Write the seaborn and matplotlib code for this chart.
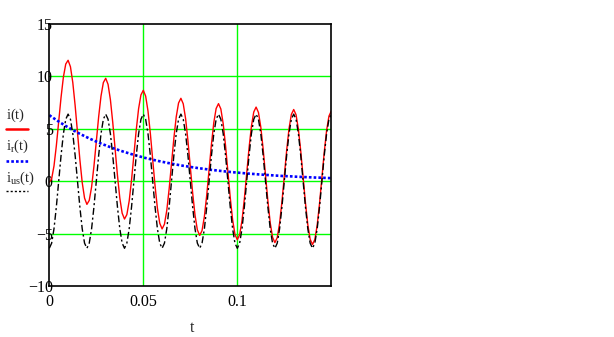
import numpy as np
import pandas as pd
import matplotlib
matplotlib.use("Agg")
import matplotlib.pyplot as plt
from matplotlib.lines import Line2D
import seaborn as sns

# ---- data ----
T_END = 0.15
N_SAMPLES = 121

i_total = [
    -0.10, 0.23, 1.46, 3.39, 5.69, 8.00, 9.94, 11.18, 11.54, 10.92, 9.41, 7.21, 4.64, 2.07, -0.12, -1.61,
    -2.21, -1.83, -0.55, 1.43, 3.78, 6.14, 8.12, 9.41, 9.82, 9.24, 7.78, 5.61, 3.08, 0.56, -1.60, -3.05,
    -3.61, -3.19, -1.88, 0.13, 2.52, 4.90, 6.92, 8.24, 8.67, 8.12, 6.69, 4.55, 2.05, -0.45, -2.58, -4.01,
    -4.55, -4.10, -2.77, -0.73, 1.67, 4.08, 6.12, 7.46, 7.91, 7.38, 5.97, 3.85, 1.36, -1.12, -3.23, -4.65,
    -5.17, -4.71, -3.36, -1.31, 1.11, 3.53, 5.59, 6.94, 7.40, 6.89, 5.48, 3.38, 0.91, -1.57, -3.67, -5.07,
    -5.58, -5.11, -3.75, -1.69, 0.74, 3.17, 5.23, 6.60, 7.07, 6.56, 5.16, 3.07, 0.60, -1.86, -3.96, -5.35,
    -5.86, -5.38, -4.01, -1.95, 0.49, 2.93, 5.00, 6.37, 6.84, 6.34, 4.95, 2.86, 0.40, -2.06, -4.15, -5.54,
    -6.04, -5.56, -4.19, -2.11, 0.33, 2.77, 4.84, 6.21, 6.70,
]

i_r = [
    6.30, 6.14, 5.99, 5.84, 5.69, 5.55, 5.41, 5.27, 5.14, 5.01, 4.88, 4.76, 4.64, 4.52, 4.41, 4.30,
    4.19, 4.08, 3.98, 3.88, 3.78, 3.69, 3.59, 3.50, 3.42, 3.33, 3.25, 3.16, 3.08, 3.01, 2.93, 2.86,
    2.79, 2.72, 2.65, 2.58, 2.52, 2.45, 2.39, 2.33, 2.27, 2.21, 2.16, 2.10, 2.05, 2.00, 1.95, 1.90,
    1.85, 1.81, 1.76, 1.72, 1.67, 1.63, 1.59, 1.55, 1.51, 1.47, 1.44, 1.40, 1.36, 1.33, 1.30, 1.26,
    1.23, 1.20, 1.17, 1.14, 1.11, 1.08, 1.06, 1.03, 1.00, 0.98, 0.95, 0.93, 0.91, 0.88, 0.86, 0.84,
    0.82, 0.80, 0.78, 0.76, 0.74, 0.72, 0.70, 0.69, 0.67, 0.65, 0.63, 0.62, 0.60, 0.59, 0.57, 0.56,
    0.54, 0.53, 0.52, 0.50, 0.49, 0.48, 0.47, 0.46, 0.44, 0.43, 0.42, 0.41, 0.40, 0.39, 0.38, 0.37,
    0.36, 0.35, 0.34, 0.34, 0.33, 0.32, 0.31, 0.30, 0.30,
]

i_us = [
    -6.40, -5.91, -4.53, -2.45, 0.00, 2.45, 4.53, 5.91, 6.40, 5.91, 4.53, 2.45, 0.00, -2.45, -4.53, -5.91,
    -6.40, -5.91, -4.53, -2.45, 0.00, 2.45, 4.53, 5.91, 6.40, 5.91, 4.53, 2.45, 0.00, -2.45, -4.53, -5.91,
    -6.40, -5.91, -4.53, -2.45, 0.00, 2.45, 4.53, 5.91, 6.40, 5.91, 4.53, 2.45, 0.00, -2.45, -4.53, -5.91,
    -6.40, -5.91, -4.53, -2.45, 0.00, 2.45, 4.53, 5.91, 6.40, 5.91, 4.53, 2.45, 0.00, -2.45, -4.53, -5.91,
    -6.40, -5.91, -4.53, -2.45, 0.00, 2.45, 4.53, 5.91, 6.40, 5.91, 4.53, 2.45, 0.00, -2.45, -4.53, -5.91,
    -6.40, -5.91, -4.53, -2.45, 0.00, 2.45, 4.53, 5.91, 6.40, 5.91, 4.53, 2.45, 0.00, -2.45, -4.53, -5.91,
    -6.40, -5.91, -4.53, -2.45, 0.00, 2.45, 4.53, 5.91, 6.40, 5.91, 4.53, 2.45, 0.00, -2.45, -4.53, -5.91,
    -6.40, -5.91, -4.53, -2.45, 0.00, 2.45, 4.53, 5.91, 6.40,
]

x_ticks = [0, 0.05, 0.1]
x_tick_labels = ["0", "0.05", "0.1"]
y_ticks = [-10, -5, 0, 5, 10, 15]
y_tick_labels = ["\u221210", "\u22125", "0", "5", "10", "15"]
x_label = "t"
legend_labels = [r"$\mathrm{i(t)}$", r"$\mathrm{i_{r}(t)}$", r"$\mathrm{i_{us}(t)}$"]

# ---- style ----
sns.set_theme(style="white")
plt.rcParams["font.family"] = ["Liberation Serif", "DejaVu Serif"]
plt.rcParams["mathtext.fontset"] = "custom"
plt.rcParams["mathtext.rm"] = "Liberation Serif"
plt.rcParams["mathtext.it"] = "Liberation Serif"

t = np.linspace(0, T_END, N_SAMPLES)
df = pd.DataFrame({"t": t, "i": i_total, "ir": i_r, "ius": i_us})

W, H = 614, 337
fig = plt.figure(figsize=(W / 100, H / 100), dpi=100)
fig.patch.set_facecolor("white")
ax = fig.add_axes([49.3 / W, 1 - 286 / H, 282 / W, 262 / H])
ax.set_facecolor("white")

sns.lineplot(data=df, x="t", y="i", ax=ax, color="#FF0000", lw=1.0,
             sort=False, estimator=None)
sns.lineplot(data=df, x="t", y="ir", ax=ax, color="#0000FF", lw=1.9,
             linestyle=(0, (1, 0.8)), sort=False, estimator=None)
sns.lineplot(data=df, x="t", y="ius", ax=ax, color="black", lw=1.0,
             linestyle=(0, (5, 2, 1.5, 2)), sort=False, estimator=None)

ax.set_xlim(0, T_END)
ax.set_ylim(-10, 15)
ax.set_xticks(x_ticks)
ax.set_xticklabels(x_tick_labels)
ax.set_yticks(y_ticks)
ax.set_yticklabels(y_tick_labels)
ax.tick_params(axis="both", length=0, labelsize=11.5, colors="black")
ax.tick_params(axis="y", pad=-2.5)
ax.tick_params(axis="x", pad=6)
ax.set_ylabel("")
ax.set_xlabel(x_label, fontsize=11.5)
ax.xaxis.set_label_coords(0.505, -0.13)

ax.set_axisbelow(True)
ax.grid(True, color="#00FF00", lw=1.0)
# grid lines that coincide with the frame are not shown
x_lo, x_hi = ax.get_xlim()
y_lo, y_hi = ax.get_ylim()
for gl, v in zip(ax.get_xgridlines(), x_ticks):
    if v in (x_lo, x_hi):
        gl.set_visible(False)
for gl, v in zip(ax.get_ygridlines(), y_ticks):
    if v in (y_lo, y_hi):
        gl.set_visible(False)
for s in ax.spines.values():
    s.set_visible(True)
    s.set_color("black")
    s.set_linewidth(1.2)
    s.set_zorder(5)

# ---- legend (Mathcad style: label above line sample, left of plot) ----
leg_text_y = [115, 146, 178]
leg_line_y = [129, 161, 191]
leg_styles = [
    dict(color="#FF0000", lw=1.8, linestyle="-"),
    dict(color="#0000FF", lw=1.9, linestyle=(0, (1, 0.8))),
    dict(color="black", lw=1.0, linestyle=(0, (1.5, 1.5))),
]
for lab, ty, ly, st in zip(legend_labels, leg_text_y, leg_line_y, leg_styles):
    fig.text(6 / W, 1 - ty / H, lab, ha="left", va="center", fontsize=10.5)
    fig.add_artist(Line2D([6 / W, 28 / W], [1 - ly / H] * 2,
                          transform=fig.transFigure, **st))

fig.savefig("out.png", dpi=100, facecolor="white")
